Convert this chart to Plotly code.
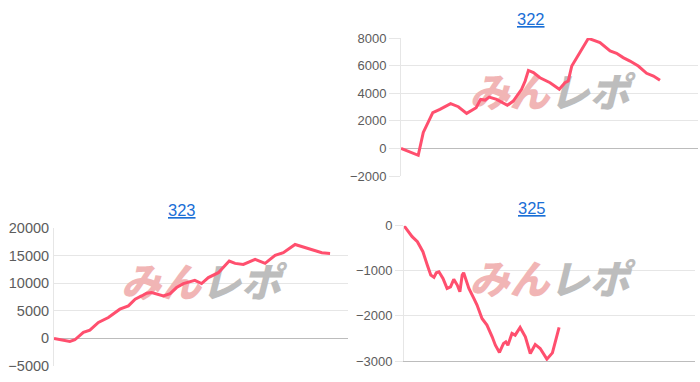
import plotly.graph_objects as go

# ---- data ----
titles = ["322", "323", "325"]

x_322 = [0, 5.8, 7.5, 10.7, 13.1, 16.7, 19.3, 22.1, 25.3, 26.8, 28.3, 29.7, 32.2, 35.8, 37.8,
         40.6, 41.8, 42.9, 44.6, 46.8, 50.2, 53.3, 55.2, 56.3, 57.5, 60.3, 63.1, 67.0, 70.4,
         72.6, 74.8, 77.1, 79.9, 82.7, 85.0, 87.2]
y_322 = [0, -500, 1160, 2590, 2830, 3240, 3020, 2540, 2950, 3550, 3500, 3720, 3550, 3120, 3430,
         4280, 4880, 5650, 5490, 5120, 4760, 4280, 4760, 4880, 5970, 6940, 7975, 7660, 7060,
         6890, 6580, 6330, 5970, 5440, 5240, 4930]

x_323 = [0, 2.6, 5.4, 7.1, 10.0, 12.2, 15.1, 18.5, 21.3, 22.4, 25.3, 27.6, 29.8, 31.5, 33.2,
         34.9, 37.2, 39.5, 41.7, 44.0, 46.3, 47.9, 50.2, 52.5, 55.9, 57.6, 59.6, 61.6, 64.4,
         68.4, 71.8, 75.2, 78.0, 82.0, 84.8, 87.6, 91.1, 93.9]
y_323 = [0, -300, -540, -250, 1080, 1500, 2890, 3790, 4800, 5290, 5890, 7090, 7690, 8180, 8300,
         8000, 7690, 8120, 9210, 9930, 10290, 10520, 9930, 11010, 11910, 12810, 14010, 13590,
         13410, 14310, 13590, 15030, 15520, 17020, 16600, 16120, 15520, 15400]

x_325 = [0, 1.7, 2.8, 4.6, 6.5, 8.0, 9.2, 10.3, 11.1, 12.0, 13.4, 14.8, 16.0, 17.1, 18.3, 19.2,
         20.0, 20.5, 22.3, 24.0, 25.1, 26.8, 28.5, 30.3, 31.4, 32.8, 34.2, 35.0, 35.7, 37.1,
         38.2, 39.9, 41.7, 43.4, 45.1, 46.8, 49.1, 51.0, 53.3]
y_325 = [0, -133, -244, -355, -577, -872, -1095, -1146, -1043, -1021, -1168, -1390, -1354, -1190,
         -1316, -1465, -1095, -1043, -1390, -1612, -1760, -2056, -2204, -2464, -2649, -2811,
         -2611, -2575, -2649, -2389, -2427, -2256, -2464, -2833, -2633, -2722, -2959, -2820, -2256]

y_range_322 = [-2000, 8000]
y_range_323 = [-5000, 20000]
y_range_325 = [-3000, 0]
x_range = [0, 100]
watermark_a = "みん"
watermark_b = "レポ"

# ---- style ----
W, H = 700, 382
LINE = "#ff4f6e"
GRID = "#e6e6e6"
BASE = "#bcbcbc"
TICK = "#5c5c5c"
LINK = "#1a6fd6"
FONT = "Liberation Sans, Arial, sans-serif"

def px(v):
    return v / W

def py(v):
    return 1 - v / H

series = [
    ("x", "y", x_322, y_322, y_range_322),
    ("x2", "y2", x_323, y_323, y_range_323),
    ("x3", "y3", x_325, y_325, y_range_325),
]

fig = go.Figure()

wm_text = ("<i><span style='color:#f1b5b5'>" + watermark_a + "</span>"
           "<span style='color:#bdbdbd'>" + watermark_b + "</span></i>")

for xa, ya, xs, ys, yr in series:
    # watermark placed under the line
    fig.add_trace(go.Scatter(
        x=[(x_range[0] + x_range[1]) / 2], y=[yr[0] + 0.57 * (yr[1] - yr[0])],
        mode="text", text=[wm_text], textposition="middle center",
        textfont=dict(family="Noto Sans CJK JP", size=40, color="#bdbdbd", weight=900),
        hoverinfo="skip", showlegend=False, xaxis=xa, yaxis=ya, cliponaxis=False))
    fig.add_trace(go.Scatter(
        x=xs, y=ys, mode="lines", line=dict(color=LINE, width=3),
        showlegend=False, xaxis=xa, yaxis=ya))

def xax(dom, anchor, showline=False):
    return dict(domain=dom, range=x_range, anchor=anchor, showgrid=False, zeroline=False,
                showticklabels=False, ticks="", showline=showline, linecolor=BASE, linewidth=1,
                fixedrange=True, automargin=False)

def yax(dom, anchor, yr, dtick, fsize, ticklen, standoff, zeroline=True):
    return dict(domain=dom, range=yr, anchor=anchor, dtick=dtick, tickformat="d",
                showgrid=True, gridcolor=GRID, gridwidth=1, zeroline=zeroline,
                zerolinecolor=BASE, zerolinewidth=1, showline=True, linecolor=GRID,
                linewidth=1, ticks="outside" if ticklen else "", ticklen=ticklen,
                tickcolor=GRID, tickfont=dict(family=FONT, size=fsize, color=TICK),
                ticklabelstandoff=standoff, fixedrange=True, automargin=False)

fig.update_layout(
    template="none",
    width=W, height=H, margin=dict(l=0, r=0, t=0, b=0, pad=0, autoexpand=False),
    paper_bgcolor="white", plot_bgcolor="white", showlegend=False,
    xaxis=xax([px(401), px(698)], "y"),
    yaxis=yax([py(176), py(38)], "x", y_range_322, 2000, 13, 11, 0),
    xaxis2=xax([px(54), px(348)], "y2"),
    yaxis2=yax([py(366), py(228)], "x2", y_range_323, 5000, 14.5, 0, 1),
    xaxis3=xax([px(404), px(695)], "y3", showline=True),
    yaxis3=yax([py(361), py(225.7)], "x3", y_range_325, 1000, 13, 8, 0, zeroline=False),
)

title_pos = [(531, 19), (182, 210), (532, 208)]
for t, (tx, ty) in zip(titles, title_pos):
    fig.add_annotation(x=px(tx), y=py(ty), xref="paper", yref="paper",
                       text="<u>" + t + "</u>", showarrow=False,
                       xanchor="center", yanchor="middle",
                       font=dict(family=FONT, size=16.5, color=LINK))

fig.write_html("out.html")
